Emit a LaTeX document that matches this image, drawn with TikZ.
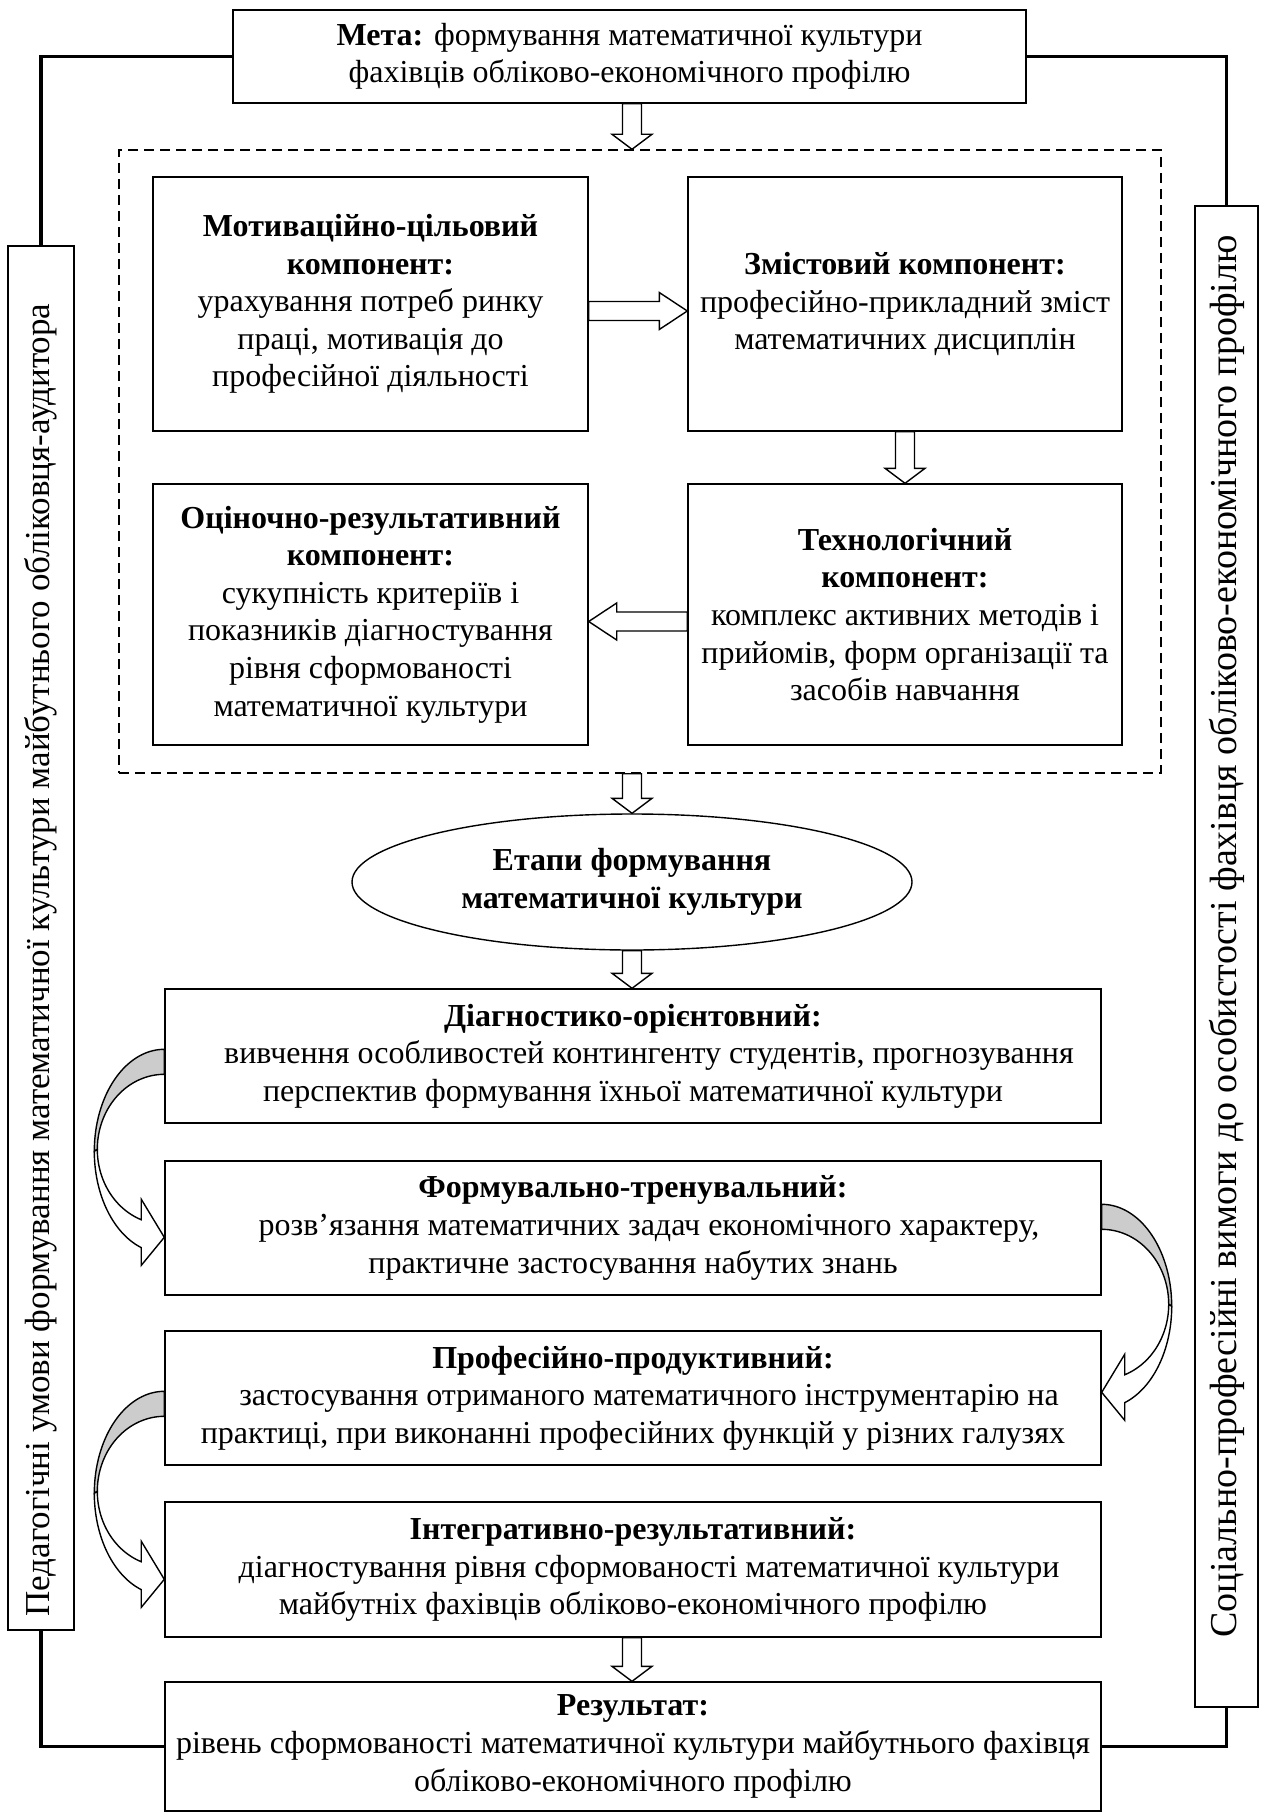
\documentclass[tikz,border=0pt]{standalone}
\usepackage{fontspec}
\setmainfont{Liberation Serif}
\usetikzlibrary{calc,shapes.geometric}
\newcommand\mfont{\fontsize{16pt}{18.8pt}\selectfont}
\newcommand\sfontside{\fontsize{17.5pt}{20pt}\selectfont}
\newcommand\sfontsideb{\fontsize{19pt}{21pt}\selectfont}
\newcommand\lead{\hspace*{16pt}}
\newcommand\vharrow[2]{%
  \draw[hollow] ($(#1)+(-9.5,0)$) -- ($(#2)+(-9.5,-15)$) -- ($(#2)+(-20,-15)$) -- (#2)
    -- ($(#2)+(20,-15)$) -- ($(#2)+(9.5,-15)$) -- ($(#1)+(9.5,0)$) -- cycle;}
\newcommand\hrarrow[2]{%
  \draw[hollow] ($(#1)+(0,-9.5)$) -- ($(#2)+(-28,-9.5)$) -- ($(#2)+(-28,-18.5)$) -- (#2)
    -- ($(#2)+(-28,18.5)$) -- ($(#2)+(-28,9.5)$) -- ($(#1)+(0,9.5)$) -- cycle;}
\newcommand\hlarrow[2]{%
  \draw[hollow] ($(#1)+(0,-9.5)$) -- ($(#2)+(28,-9.5)$) -- ($(#2)+(28,-18.5)$) -- (#2)
    -- ($(#2)+(28,18.5)$) -- ($(#2)+(28,9.5)$) -- ($(#1)+(0,9.5)$) -- cycle;}
\newcommand\curvarrowshape{%
  \filldraw[curvback] plot[domain=90:180,samples=40] ({70*cos(\x)},{102-102*sin(\x)})
    -- plot[domain=180:90,samples=40] ({67*cos(\x)},{100-75*sin(\x)}) -- cycle;
  \filldraw[curvfront] plot[domain=180:249.9,samples=40] ({67*cos(\x)},{100-75*sin(\x)})
    -- (-23,150) -- (0,188) -- (-23,216)
    -- plot[domain=250.8:180,samples=40] ({70*cos(\x)},{102-102*sin(\x)}) -- cycle;}
\begin{document}
\begin{tikzpicture}[x=0.5pt,y=-0.5pt,
  box/.style={draw, line width=0.7pt, fill=white, inner sep=2pt, align=center, font=\mfont},
  sidebox/.style={draw, line width=0.7pt, fill=white, inner sep=0pt},
  sidetext/.style={rotate=90, font=\sfontside, inner sep=0pt},
  frameline/.style={line width=1.8pt},
  dashbox/.style={draw, line width=0.7pt, dash pattern=on 5pt off 3pt, inner sep=0pt},
  hollow/.style={draw, line width=0.7pt, fill=white, line join=miter},
  curvback/.style={draw=black, line width=0.7pt, fill=black!20},
  curvfront/.style={draw=black, line width=0.7pt, fill=white},
  ellnode/.style={draw, ellipse, line width=0.7pt, fill=white, inner sep=0pt, align=center, font=\mfont\bfseries}
]
\useasboundingbox (0,0) rectangle (1263,1813);
\fill[white] (0,0) rectangle (1263,1813);

% nodes
\node[box, minimum width=396.5pt, minimum height=46.5pt] (meta) at (629.5,56.5)
  {\textbf{Мета:} формування математичної культури\\ фахівців обліково-економічного профілю};

\node[sidebox, minimum width=33pt, minimum height=692pt] (lbox) at (41,938) {};
\node[sidetext] (ltext) at ($(lbox.center)+(0,22)$) {Педагогічні умови формування математичної культури майбутнього обліковця-аудитора};
\node[sidebox, minimum width=31.5pt, minimum height=750.5pt] (rbox) at (1226.5,956.5) {};
\node[sidetext, font=\sfontsideb] (rtext) at ($(rbox.center)+(0,-20)$) {Соціально-професійні вимоги до особистості фахівця обліково-економічного профілю};

\node[dashbox, minimum width=521pt, minimum height=311.5pt] (dash) at (640,461.5) {};

\node[box, minimum width=217.5pt, minimum height=127pt] (motiv) at (370.5,304)
  {\textbf{Мотиваційно-цільовий}\\ \textbf{компонент:}\\ урахування потреб ринку\\ праці, мотивація до\\ професійної діяльності};
\node[box, minimum width=217pt, minimum height=127pt] (zmist) at (905,304)
  {\textbf{Змістовий компонент:}\\ професійно-прикладний зміст\\ математичних дисциплін};
\node[box, minimum width=217.5pt, minimum height=130.5pt] (ocin) at (370.5,614.5)
  {\textbf{Оціночно-результативний}\\ \textbf{компонент:}\\ сукупність критеріїв і\\ показників діагностування\\ рівня сформованості\\ математичної культури};
\node[box, minimum width=217pt, minimum height=130.5pt] (tech) at (905,614.5)
  {\textbf{Технологічний}\\ \textbf{компонент:}\\ комплекс активних методів і\\ прийомів, форм організації та\\ засобів навчання};

\node[ellnode, minimum width=280pt, minimum height=68pt] (etapy) at (632,882)
  {Етапи формування\\ математичної культури};

\node[box, minimum width=468pt, minimum height=67pt] (s1) at (633,1056)
  {\textbf{Діагностико-орієнтовний:}\\ \lead вивчення особливостей контингенту студентів, прогнозування\\ перспектив формування їхньої математичної культури};
\node[box, minimum width=468pt, minimum height=67pt] (s2) at (633,1228)
  {\textbf{Формувально-тренувальний:}\\ \lead розв’язання математичних задач економічного характеру,\\ практичне застосування набутих знань};
\node[box, minimum width=468pt, minimum height=67pt] (s3) at (633,1398)
  {\textbf{Професійно-продуктивний:}\\ \lead застосування отриманого математичного інструментарію на\\ практиці, при виконанні професійних функцій у різних галузях};
\node[box, minimum width=468pt, minimum height=67.5pt] (s4) at (633,1569.5)
  {\textbf{Інтегративно-результативний:}\\ \lead діагностування рівня сформованості математичної культури\\ майбутніх фахівців обліково-економічного профілю};
\node[box, minimum width=468pt, minimum height=64.5pt] (res) at (633,1746.5)
  {\textbf{Результат:}\\ рівень сформованості математичної культури майбутнього фахівця\\ обліково-економічного профілю};

% thick frame connectors
\draw[frameline] (meta.west) -| (lbox.north);
\draw[frameline] (meta.east) -| (rbox.north);
\draw[frameline] (lbox.south) |- (res.west);
\draw[frameline] (rbox.south) |- (res.east);

% straight hollow arrows
\coordinate (ax) at (632,0);
\coordinate (a1s) at (ax |- meta.south);
\coordinate (a1e) at (ax |- dash.north);
\coordinate (a2s) at (ax |- dash.south);
\coordinate (a2e) at (ax |- etapy.north);
\coordinate (a3s) at (ax |- etapy.south);
\coordinate (a3e) at (ax |- s1.north);
\coordinate (a4s) at (ax |- s4.south);
\coordinate (a4e) at (ax |- res.north);
\vharrow{a1s}{a1e}
\vharrow{a2s}{a2e}
\vharrow{a3s}{a3e}
\vharrow{a4s}{a4e}
\vharrow{zmist.south}{tech.north}
\coordinate (h1s) at ($(motiv.east)+(0,7)$);
\coordinate (h1e) at ($(zmist.west)+(0,7)$);
\coordinate (h2s) at ($(tech.west)+(0,7)$);
\coordinate (h2e) at ($(ocin.east)+(0,7)$);
\hrarrow{h1s}{h1e}
\hlarrow{h2s}{h2e}

% curved arrows between stages
\coordinate (c1) at ($(s1.north west)+(0,61)$);
\coordinate (c2) at ($(s2.north east)+(0,44)$);
\coordinate (c3) at ($(s3.north west)+(0,61)$);
\begin{scope}[shift={(c1)}]\curvarrowshape\end{scope}
\begin{scope}[shift={(c2)}, xscale=-1]\curvarrowshape\end{scope}
\begin{scope}[shift={(c3)}]\curvarrowshape\end{scope}
\end{tikzpicture}
\end{document}
